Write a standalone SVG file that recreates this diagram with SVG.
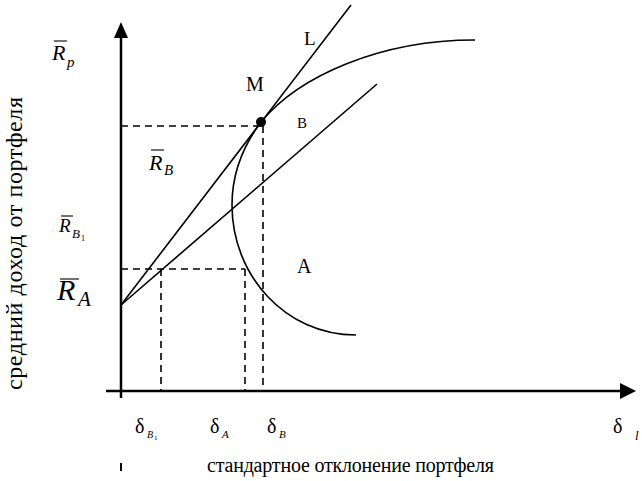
<svg xmlns="http://www.w3.org/2000/svg" width="642" height="481" viewBox="0 0 642 481">
<style>
text{font-family:"Liberation Serif","Times New Roman",serif;fill:#000}
.it{font-style:italic}
.ax{stroke:#000;stroke-width:2.5;fill:none}
.ln{stroke:#000;stroke-width:1.6;fill:none}
.dash{stroke:#000;stroke-width:1.6;fill:none;stroke-dasharray:7,5}
.ov{stroke:#000;stroke-width:1.1}
</style>
<rect width="642" height="481" fill="#fff"/>
<g id="axes">
<line class="ax" x1="121" y1="398" x2="121" y2="36"/>
<polygon points="121,22 114,38 128,38" fill="#000"/>
<line class="ax" x1="106" y1="391" x2="622" y2="391"/>
<polygon points="636,391 620,383 620,399" fill="#000"/>
<line x1="121" y1="463" x2="121" y2="471" stroke="#000" stroke-width="2"/>
</g>
<g id="connectors">
<line class="ln" x1="121" y1="305" x2="351" y2="5"/>
<line class="ln" x1="121" y1="305" x2="377" y2="84"/>
<line class="dash" x1="121" y1="126" x2="261" y2="126"/>
<line class="dash" x1="263" y1="126" x2="263" y2="390"/>
<line class="dash" x1="121" y1="269" x2="245" y2="269"/>
<line class="dash" x1="245" y1="269" x2="245" y2="390"/>
<line class="dash" x1="161" y1="269" x2="161" y2="390"/>
</g>
<g id="frontier">
<path class="ln" d="M475,40 C380,40 299,76 261,122 C240,150 232,180 232,205 C232,275 285,335 356,335"/>
</g>
<g id="M">
<circle cx="261" cy="122" r="5" fill="#000"/>
<text x="246" y="91" font-size="20">M</text>
</g>
<g id="L"><text x="304" y="45" font-size="19">L</text></g>
<g id="B"><text x="297" y="128" font-size="15">B</text></g>
<g id="A"><text x="297" y="273" font-size="20">A</text></g>
<g id="Rp">
<line class="ov" x1="54" y1="41" x2="67" y2="41"/>
<text class="it" x="52" y="60" font-size="22">R</text>
<text class="it" x="67" y="67" font-size="15">p</text>
</g>
<g id="RB">
<line class="ov" x1="151" y1="150" x2="164" y2="150"/>
<text class="it" x="149" y="170" font-size="22">R</text>
<text class="it" x="164" y="175" font-size="15">B</text>
</g>
<g id="RB1">
<line class="ov" x1="61" y1="216" x2="73" y2="216"/>
<text class="it" x="59" y="232" font-size="19">R</text>
<text class="it" x="72" y="238" font-size="13">B</text>
<text x="81" y="241" font-size="8">1</text>
</g>
<g id="RA">
<line class="ov" x1="60" y1="279" x2="79" y2="279" stroke-width="1.5"/>
<text class="it" x="57" y="300" font-size="30">R</text>
<text class="it" x="78" y="306" font-size="21">A</text>
</g>
<g id="dB1">
<text x="135" y="433" font-size="20">δ</text>
<text class="it" x="147" y="438" font-size="10">B</text>
<text x="154" y="440" font-size="7">1</text>
</g>
<g id="dA">
<text x="210" y="433" font-size="20">δ</text>
<text class="it" x="222" y="438" font-size="11">A</text>
</g>
<g id="dB">
<text x="267" y="433" font-size="20">δ</text>
<text class="it" x="279" y="438" font-size="11">B</text>
</g>
<g id="dl">
<text x="613" y="433" font-size="20">δ</text>
<text class="it" x="635" y="440" font-size="13">l</text>
</g>
<g id="xlabel"><text x="207" y="472" font-size="20" textLength="287" lengthAdjust="spacing">стандартное отклонение портфеля</text></g>
<g id="ylabel"><text transform="translate(22,390) rotate(-90)" font-size="24" textLength="293" lengthAdjust="spacing">средний доход от портфеля</text></g>
</svg>
